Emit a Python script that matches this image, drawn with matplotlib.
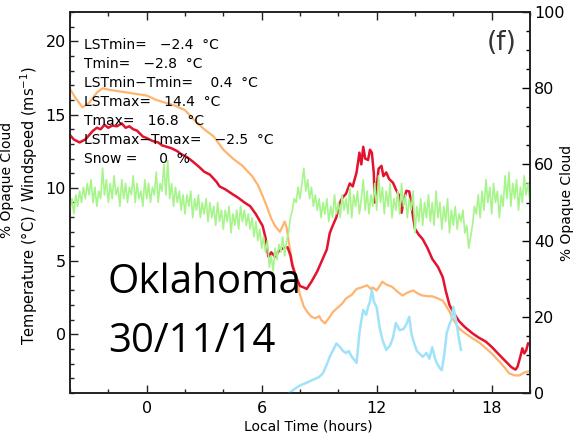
import matplotlib
matplotlib.use('Agg')
import matplotlib.pyplot as plt
from matplotlib.ticker import MultipleLocator

# land surface temperature (red), hours vs degC
lst_hours = [-4.0, -3.8, -3.5, -3.2, -3.0, -2.8, -2.6, -2.4, -2.2, -2.0, -1.8, -1.55, -1.3, -1.1,
             -0.9, -0.7, -0.5, -0.2, 0.0, 0.3, 0.6, 0.8, 1.05, 1.3, 1.6, 1.8, 2.1, 2.4, 2.76, 3.0,
             3.3, 3.65, 3.8, 4.1, 4.5, 4.8, 5.1, 5.4, 5.7, 6.05, 6.2, 6.35, 6.5, 6.7, 6.95, 7.2,
             7.35, 7.5, 7.6, 7.8, 8.0, 8.2, 8.35, 8.6, 8.9, 9.1, 9.4, 9.55, 9.7, 9.9, 10.05, 10.2,
             10.4, 10.6, 10.75, 10.95, 11.1, 11.2, 11.3, 11.4, 11.55, 11.65, 11.75, 11.85, 11.9,
             12.0, 12.1, 12.25, 12.35, 12.5, 12.65, 12.85, 13.0, 13.2, 13.3, 13.4, 13.55, 13.7,
             13.8, 13.9, 14.0, 14.2, 14.4, 14.65, 14.9, 15.2, 15.45, 15.6, 15.8, 16.0, 16.3, 16.6,
             17.0, 17.3, 17.7, 18.0, 18.4, 18.7, 19.0, 19.1, 19.25, 19.35, 19.5, 19.6, 19.7, 19.8,
             19.9, 20.0]
lst_temp = [13.6, 13.3, 13.1, 13.3, 13.6, 13.9, 14.1, 14.0, 14.3, 14.1, 14.25, 14.2, 14.4, 14.1,
            14.2, 14.0, 13.9, 13.5, 13.4, 13.2, 13.1, 12.9, 12.8, 12.7, 12.5, 12.3, 12.1, 11.8, 11.4, 11.1,
            10.9, 10.4, 10.1, 9.9, 9.55, 9.3, 9.0, 8.75, 8.2, 7.4, 6.6, 5.3, 5.6, 5.3, 5.8, 5.9,
            5.95, 5.4, 4.7, 3.9, 3.3, 3.2, 3.1, 3.6, 4.3, 4.9, 5.8, 6.9, 7.4, 8.0, 8.9, 9.3,
            9.6, 10.3, 10.1, 11.05, 12.4, 11.6, 12.8, 12.0, 11.9, 12.6, 12.4, 11.0, 9.0,
            10.1, 11.3, 11.5, 10.8, 11.05, 10.6, 10.35, 9.9, 9.4, 8.3, 9.1, 9.8, 9.75,
            9.0, 8.0, 7.2, 6.8, 6.5, 5.9, 5.15, 4.6, 3.9, 3.0, 2.0, 1.5, 0.9, 0.5,
            0.07, -0.2, -0.5, -0.85, -1.4, -1.8, -2.2, -2.3, -2.4, -2.2, -1.5, -0.95, -1.3, -1.1,
            -0.6, -0.7]

# air temperature (orange)
air_hours = [-4.0, -3.7, -3.35, -3.0, -2.6, -2.3, -2.0, -1.5, -1.0, -0.5, 0.0, 0.5, 1.0, 1.5,
             2.0, 2.5, 3.0, 3.5, 4.0, 4.5, 5.0, 5.5, 5.8, 6.0, 6.25, 6.5, 6.7, 6.95, 7.1, 7.2,
             7.3, 7.45, 7.6, 7.8, 8.0, 8.2, 8.4, 8.6, 8.8, 9.0, 9.1, 9.3, 9.5, 9.7, 9.9, 10.2,
             10.4, 10.7, 10.95, 11.2, 11.5, 11.7, 11.8, 12.0, 12.3, 12.5, 12.8, 13.1, 13.35, 13.6,
             13.9, 14.2, 14.4, 14.7, 14.9, 15.2, 15.45, 15.6, 15.8, 16.0, 16.3, 16.6, 17.0, 17.4,
             17.7, 18.0, 18.4, 18.7, 18.9, 19.2, 19.45, 19.7, 20.0]
air_temp = [16.75, 16.1, 15.5, 15.8, 16.5, 16.8, 16.7, 16.6, 16.5, 16.4, 16.3, 16.0, 15.8, 15.6,
            15.3, 14.6, 14.0, 13.5, 12.6, 12.0, 11.5, 10.8, 10.2, 9.6, 8.8, 7.9, 7.4, 7.0, 7.4, 7.7,
            7.3, 6.0, 4.9, 3.8, 2.7, 1.9, 1.5, 1.2, 1.1, 1.25, 1.0, 0.75, 1.1, 1.5, 1.75, 2.1,
            2.45, 2.7, 3.1, 3.2, 3.35, 3.1, 3.2, 3.0, 3.6, 3.4, 3.25, 2.9, 2.65, 2.85,
            3.0, 2.75, 2.65, 2.6, 2.6, 2.45, 2.3, 2.0, 1.55, 1.0, 0.4, 0.1, -0.27, -0.6,
            -0.95, -1.3, -1.85, -2.3, -2.65, -2.8, -2.8, -2.6, -2.5]

# opaque cloud fraction (green, right axis, %), one row per hour
cloud_hours = [
    -4.0, -3.9, -3.8, -3.7, -3.6, -3.5, -3.4, -3.3, -3.2, -3.1,
    -3.0, -2.9, -2.8, -2.7, -2.6, -2.5, -2.4, -2.3, -2.2, -2.1,
    -2.0, -1.9, -1.8, -1.7, -1.6, -1.5, -1.4, -1.3, -1.2, -1.1,
    -1.0, -0.9, -0.8, -0.7, -0.6, -0.5, -0.4, -0.3, -0.2, -0.1,
    0.0, 0.1, 0.2, 0.3, 0.4, 0.5, 0.6, 0.7, 0.8, 0.9,
    1.0, 1.1, 1.2, 1.3, 1.4, 1.5, 1.6, 1.7, 1.8, 1.9,
    2.0, 2.1, 2.2, 2.3, 2.4, 2.5, 2.6, 2.7, 2.8, 2.9,
    3.0, 3.1, 3.2, 3.3, 3.4, 3.5, 3.6, 3.7, 3.8, 3.9,
    4.0, 4.1, 4.2, 4.3, 4.4, 4.5, 4.6, 4.7, 4.8, 4.9,
    5.0, 5.1, 5.2, 5.3, 5.4, 5.5, 5.6, 5.7, 5.8, 5.9,
    6.0, 6.1, 6.2, 6.3, 6.4, 6.5, 6.6, 6.7, 6.8, 6.9,
    7.0, 7.1, 7.2, 7.3, 7.4, 7.5, 7.6, 7.7, 7.8, 7.9,
    8.0, 8.1, 8.2, 8.3, 8.4, 8.5, 8.6, 8.7, 8.8, 8.9,
    9.0, 9.1, 9.2, 9.3, 9.4, 9.5, 9.6, 9.7, 9.8, 9.9,
    10.0, 10.1, 10.2, 10.3, 10.4, 10.5, 10.6, 10.7, 10.8, 10.9,
    11.0, 11.1, 11.2, 11.3, 11.4, 11.5, 11.6, 11.7, 11.8, 11.9,
    12.0, 12.1, 12.2, 12.3, 12.4, 12.5, 12.6, 12.7, 12.8, 12.9,
    13.0, 13.1, 13.2, 13.3, 13.4, 13.5, 13.6, 13.7, 13.8, 13.9,
    14.0, 14.1, 14.2, 14.3, 14.4, 14.5, 14.6, 14.7, 14.8, 14.9,
    15.0, 15.1, 15.2, 15.3, 15.4, 15.5, 15.6, 15.7, 15.8, 15.9,
    16.0, 16.1, 16.2, 16.3, 16.4, 16.5, 16.6, 16.7, 16.8, 16.9,
    17.0, 17.1, 17.2, 17.3, 17.4, 17.5, 17.6, 17.7, 17.8, 17.9,
    18.0, 18.1, 18.2, 18.3, 18.4, 18.5, 18.6, 18.7, 18.8, 18.9,
    19.0, 19.1, 19.2, 19.3, 19.4, 19.5, 19.6, 19.7, 19.8, 19.9,
    20.0]
cloud_pct = [
    48, 51, 47, 52, 49, 53, 50, 54, 51, 55,
    52, 56, 50, 54, 49, 53, 51, 59, 52, 56,
    50, 55, 51, 57, 52, 54, 49, 56, 51, 55,
    50, 54, 52, 57, 50, 55, 51, 53, 49, 56,
    51, 55, 50, 54, 52, 58, 50, 55, 53, 60,
    52, 61, 51, 55, 49, 54, 50, 53, 48, 52,
    47, 52, 49, 53, 46, 51, 48, 52, 46, 50,
    47, 51, 45, 50, 46, 49, 44, 50, 45, 48,
    43, 48, 45, 49, 42, 47, 44, 48, 43, 49,
    45, 48, 44, 47, 43, 46, 41, 45, 40, 43,
    38, 41, 37, 40, 33, 36, 32, 38, 35, 39,
    37, 41, 36, 40, 42, 46, 48, 51, 50, 54,
    51, 55, 59, 53, 56, 51, 54, 49, 52, 48,
    51, 46, 50, 47, 51, 45, 49, 46, 52, 47,
    50, 46, 52, 48, 51, 47, 54, 46, 52, 49,
    53, 47, 51, 56, 48, 53, 47, 52, 49, 55,
    48, 57, 50, 54, 47, 53, 49, 55, 46, 51,
    48, 53, 47, 55, 49, 52, 46, 51, 48, 53,
    42, 49, 45, 51, 44, 50, 46, 52, 45, 50,
    44, 53, 46, 50, 43, 49, 45, 51, 42, 48,
    44, 49, 43, 47, 45, 48, 42, 44, 38, 41,
    44, 49, 47, 52, 46, 53, 48, 56, 50, 54,
    47, 55, 50, 53, 46, 52, 49, 57, 51, 58,
    49, 55, 51, 56, 48, 54, 50, 57, 52, 55,
    50]

# second cloud trace (light blue, right axis)
blue_hours = [7.45, 7.7, 8.0, 8.3, 8.65, 9.0, 9.2, 9.4, 9.55, 9.75, 9.9, 10.1, 10.25, 10.4, 10.55,
              10.7, 10.85, 10.95, 11.1, 11.2, 11.3, 11.45, 11.55, 11.65, 11.75, 11.85, 12.0, 12.15,
              12.3, 12.5, 12.7, 12.85, 13.0, 13.2, 13.4, 13.55, 13.7, 13.8, 13.9, 14.1, 14.4, 14.6,
              14.75, 14.9, 15.05, 15.15, 15.3, 15.4, 15.55, 15.65, 15.8, 15.9, 16.0, 16.1, 16.2,
              16.3, 16.4]
blue_pct = [0, 1.0, 2.0, 2.6, 3.4, 4.2, 5.2, 7.5, 9.5, 11.5, 13.0, 12.0, 11.0, 10.5, 11.0,
            9.5, 8.6, 7.9, 15.7, 19.0, 21.8, 20.5, 22.5, 24.0, 27.0, 24.0, 22.5, 17.3,
            14.0, 11.3, 12.5, 14.5, 18.4, 16.5, 16.8, 18.0, 20.0, 16.0, 13.9, 11.0, 9.5, 10.5,
            9.0, 12.0, 9.0, 7.7, 6.5, 6.0, 11.0, 15.7, 18.0, 19.2, 22.6, 20.0, 17.3,
            14.0, 11.3]

stats_lines = ['LSTmin=   \u22122.4  \u00b0C',
               'Tmin=   \u22122.8  \u00b0C',
               'LSTmin\u2212Tmin=    0.4  \u00b0C',
               'LSTmax=   14.4  \u00b0C',
               'Tmax=   16.8  \u00b0C',
               'LSTmax\u2212Tmax=   \u22122.5  \u00b0C',
               'Snow =     0  %']

W, H = 583, 434


def fx(x):
    return x / W


def fy(y):
    return 1 - y / H


fig = plt.figure(figsize=(W / 100, H / 100), dpi=100)
ax = fig.add_axes([fx(70), fy(393), (530 - 70) / W, (393 - 12) / H])
ax2 = ax.twinx()

ax.plot(air_hours, air_temp, color='#ffb46e', lw=1.6)
ax.plot(lst_hours, lst_temp, color='#e3122e', lw=1.8)
ax2.plot(cloud_hours, cloud_pct, color='#a6f58a', lw=1.2)
ax2.plot(blue_hours, blue_pct, color='#9fe3fb', lw=1.8)

ax.set_xlim(-4, 20)
ax.set_ylim(-4, 22)
ax2.set_ylim(0, 100)

ax.xaxis.set_major_locator(MultipleLocator(6))
ax.xaxis.set_minor_locator(MultipleLocator(2))
ax.yaxis.set_major_locator(MultipleLocator(5))
ax.yaxis.set_minor_locator(MultipleLocator(1))
ax2.yaxis.set_major_locator(MultipleLocator(20))
ax2.yaxis.set_minor_locator(MultipleLocator(5))

ax.tick_params(which='both', direction='in', top=True, right=False, width=1.0,
               labelsize=11.5, color='#222222')
ax.tick_params(which='major', length=5.5)
ax.tick_params(which='minor', length=3.2)
ax.tick_params(axis='y', pad=3)
ax.tick_params(axis='x', pad=6)
ax2.tick_params(which='both', direction='in', width=1.0, labelsize=11.5, pad=3)
ax2.tick_params(which='major', length=5.5)
ax2.tick_params(which='minor', length=3.2)

for a in (ax, ax2):
    for s in a.spines.values():
        s.set_linewidth(1.2)
        s.set_color('#222222')

fig.text(fx(308), fy(427), 'Local Time (hours)', fontsize=10, ha='center', va='center')
fig.text(fx(29), fy(206), 'Temperature (\u00b0C) / Windspeed (ms$^{-1}$)', fontsize=10.5,
         rotation=90, ha='center', va='center')
fig.text(fx(7), fy(180), '% Opaque Cloud', fontsize=10, rotation=90, ha='center', va='center')
fig.text(fx(567), fy(203), '% Opaque Cloud', fontsize=10, rotation=90, ha='center', va='center')

for i, line in enumerate(stats_lines):
    fig.text(fx(84), fy(45 + 19 * i), line, fontsize=10, ha='left', va='center')

fig.text(fx(502), fy(43), '(f)', fontsize=19, ha='center', va='center', color='#333333')

fig.text(fx(108), fy(293), 'Oklahoma', fontsize=29, family='Open Sans', ha='left', va='baseline')
fig.text(fx(108), fy(352), '30/11/14', fontsize=29, family='Open Sans', ha='left', va='baseline')

fig.savefig('out.png', dpi=100)
